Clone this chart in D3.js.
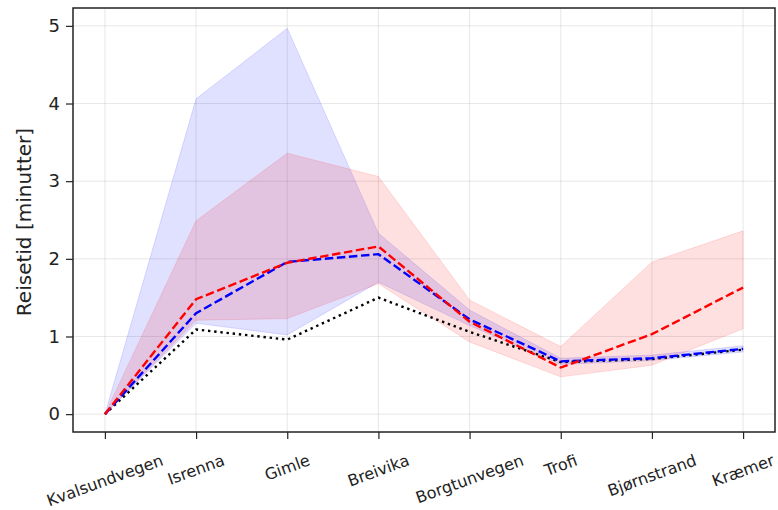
<!DOCTYPE html>
<html>
<head>
<meta charset="utf-8">
<script src="https://cdn.jsdelivr.net/npm/d3@7"></script>
<style>
  body { margin: 0; background: #fff; }
  svg { font-family: "DejaVu Sans", sans-serif; }
</style>
</head>
<body>
<svg id="chart" width="778" height="510"></svg>
<script>
// travel time per stop
const stations = ["Kvalsundvegen", "Isrenna", "Gimle", "Breivika", "Borgtunvegen", "Trofi", "Bjørnstrand", "Kræmer"];
const baseline = [0, 1.09, 0.96, 1.50, 1.06, 0.67, 0.71, 0.83];
const blueMean = [0, 1.30, 1.96, 2.06, 1.22, 0.68, 0.72, 0.84];
const blueLow  = [0, 1.17, 1.02, 1.70, 1.14, 0.64, 0.69, 0.80];
const blueHigh = [0, 4.06, 4.97, 2.33, 1.34, 0.72, 0.76, 0.88];
const redMean  = [0, 1.48, 1.95, 2.16, 1.19, 0.60, 1.03, 1.63];
const redLow   = [0, 1.21, 1.23, 1.68, 0.93, 0.48, 0.63, 1.10];
const redHigh  = [0, 2.49, 3.36, 3.06, 1.47, 0.87, 1.96, 2.36];
const yTicks = [0, 1, 2, 3, 4, 5];

const plot = { left: 73, right: 775, top: 8, bottom: 432 };

const svg = d3.select("#chart");

const x = d3.scalePoint().domain(stations).range([plot.left, plot.right]).padding(0.35);
const y = d3.scaleLinear().domain([-0.23, 5.23]).range([plot.bottom, plot.top]);

// grid
const grid = svg.append("g").attr("stroke", "#b0b0b0").attr("stroke-opacity", 0.3).attr("stroke-width", 1);
grid.selectAll(".gx").data(stations).enter().append("line")
    .attr("x1", d => x(d)).attr("x2", d => x(d)).attr("y1", plot.top).attr("y2", plot.bottom);
grid.selectAll(".gy").data(yTicks).enter().append("line")
    .attr("x1", plot.left).attr("x2", plot.right).attr("y1", d => y(d)).attr("y2", d => y(d));

// bands
function band(lo, hi, color) {
    const area = d3.area()
        .x((d, i) => x(stations[i]))
        .y0((d, i) => y(lo[i]))
        .y1((d, i) => y(hi[i]));
    svg.append("path")
        .attr("d", area(lo))
        .attr("fill", color).attr("fill-opacity", 0.12)
        .attr("stroke", color).attr("stroke-opacity", 0.12).attr("stroke-width", 1);
}
band(blueLow, blueHigh, "blue");
band(redLow, redHigh, "red");

// lines
function line(vals, color, dash) {
    const gen = d3.line().x((d, i) => x(stations[i])).y(d => y(d));
    svg.append("path")
        .attr("d", gen(vals))
        .attr("fill", "none")
        .attr("stroke", color)
        .attr("stroke-width", 2.4)
        .attr("stroke-dasharray", dash);
}
line(baseline, "black", "2.4,3.8");
line(blueMean, "blue", "8.5,3.6");
line(redMean, "red", "8.5,3.6");

// axes
const yAxis = d3.axisLeft(y).tickValues(yTicks).tickSize(7).tickPadding(6).tickFormat(d3.format("d"));
const gy = svg.append("g").attr("transform", `translate(${plot.left},0)`).call(yAxis);
gy.select(".domain").remove();
gy.selectAll("text").attr("font-size", 18).attr("fill", "#222").attr("font-family", "DejaVu Sans");
gy.selectAll("line").attr("stroke", "#222").attr("stroke-width", 1.2);

const xAxis = d3.axisBottom(x).tickSize(7).tickFormat("");
const gx = svg.append("g").attr("transform", `translate(0,${plot.bottom})`).call(xAxis);
gx.select(".domain").remove();
gx.selectAll("line").attr("stroke", "#222").attr("stroke-width", 1.2);

// rotated x labels, centred on the tick, top of bbox just under it
const ang = 20 * Math.PI / 180;
const fs = 16;
stations.forEach(s => {
    const t = svg.append("text")
        .attr("font-size", fs)
        .attr("fill", "#222")
        .attr("text-anchor", "middle")
        .attr("dominant-baseline", "central")
        .text(s);
    const w = t.node().getComputedTextLength();
    const h = fs * 1.0;
    const bh = w * Math.sin(ang) + h * Math.cos(ang);
    t.attr("transform", `translate(${x(s)},${plot.bottom + 20 + bh / 2}) rotate(-20)`);
});

// frame
svg.append("rect")
    .attr("x", plot.left).attr("y", plot.top)
    .attr("width", plot.right - plot.left).attr("height", plot.bottom - plot.top)
    .attr("fill", "none").attr("stroke", "#222").attr("stroke-width", 1.5);

// y label
svg.append("text")
    .attr("transform", `translate(24,${(plot.top + plot.bottom) / 2 + 2}) rotate(-90)`)
    .attr("text-anchor", "middle")
    .attr("dominant-baseline", "central")
    .attr("font-size", 20)
    .attr("fill", "#222")
    .text("Reisetid [minutter]");
</script>
</body>
</html>
